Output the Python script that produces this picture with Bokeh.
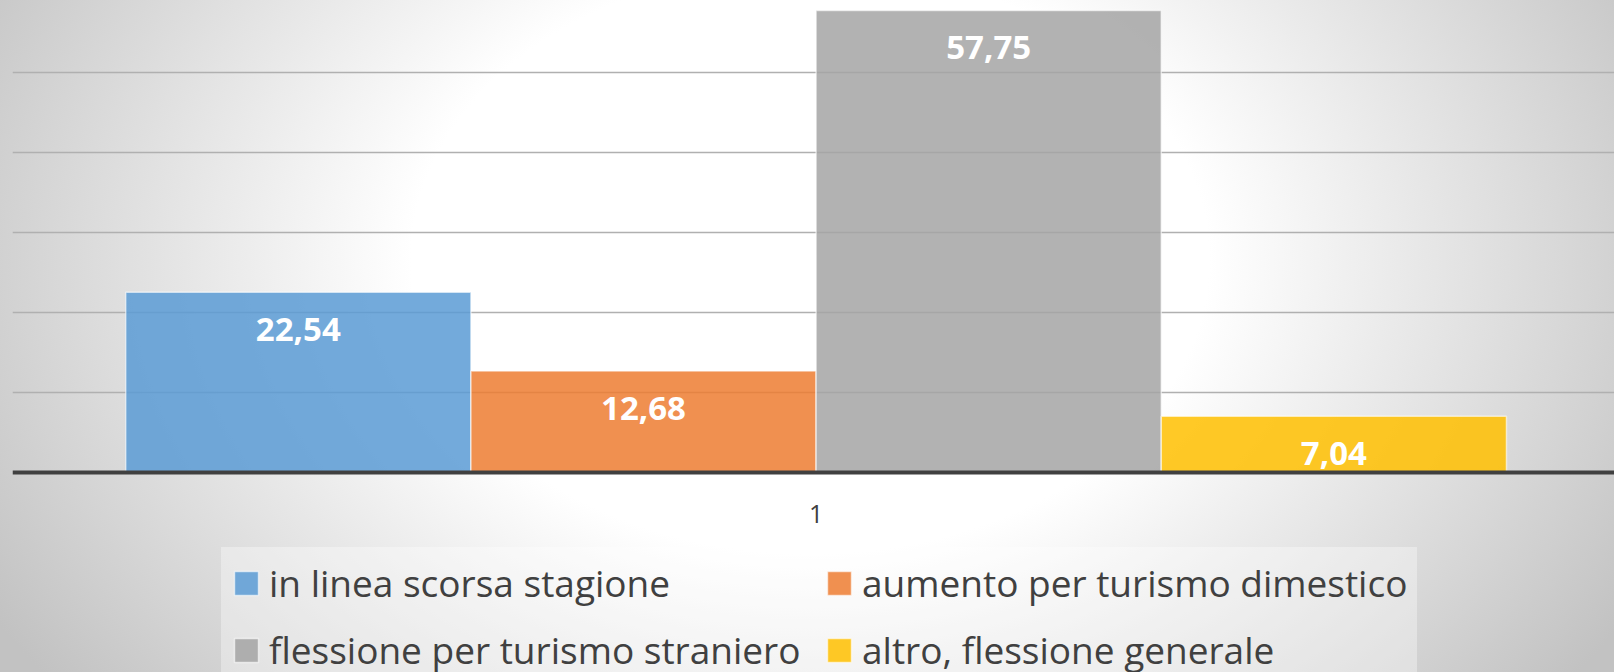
from bokeh.plotting import figure
from bokeh.models import (ColumnDataSource, Range1d, FixedTicker, Legend, LegendItem,
                          InlineStyleSheet, Grid)
from bokeh.core.properties import value
from bokeh.embed import file_html
from bokeh.resources import INLINE

# ---- data ----
category = "1"
series = ["in linea scorsa stagione", "aumento per turismo dimestico",
          "flessione per turismo straniero", "altro, flessione generale"]
values = [22.54, 12.68, 57.75, 7.04]
value_labels = ["22,54", "12,68", "57,75", "7,04"]
colors = ["#5B9BD5", "#ED7D31", "#A5A5A5", "#FFC000"]
grid_ticks = [10, 20, 30, 40, 50]

n = len(series)
xs = [i - (n - 1) / 2 for i in range(n)]
src = ColumnDataSource(dict(x=xs, v=values, lab=value_labels, color=colors, name=series))

W, H = 1614, 672
p = figure(width=W, height=H, output_backend="svg", toolbar_location=None,
           x_range=Range1d(-2.328, 2.313), y_range=Range1d(-25, 59),
           min_border_left=12, min_border_right=0, min_border_top=0, min_border_bottom=0,
           y_axis_location=None)
p.background_fill_alpha = 0
p.border_fill_alpha = 0
p.outline_line_color = None
p.stylesheets = [InlineStyleSheet(css=":host { background: radial-gradient(ellipse 950px 700px at 810px 260px, #ffffff 42%, #c2c2c2 100%); }")]

for g in p.grid:
    g.visible = False
p.add_layout(Grid(dimension=1, ticker=FixedTicker(ticks=grid_ticks),
                  grid_line_color="#b0b0b0", grid_line_width=1.5))

bars = p.vbar(x="x", top="v", width=1, source=src, fill_color="color", fill_alpha=0.85,
              line_color="white", line_alpha=0.6, line_width=1.5)

p.text(x="x", y="v", text="lab", source=src, text_color="white",
       text_font=value("Open Sans"), text_font_style="bold", text_font_size="33px",
       text_align="center", text_baseline="middle", y_offset=37)

ax = p.xaxis[0]
ax.fixed_location = 0
ax.ticker = FixedTicker(ticks=[0])
ax.major_label_overrides = {0: category}
ax.axis_line_color = "#404040"
ax.axis_line_width = 4
ax.major_tick_line_color = None
ax.minor_tick_line_color = None
ax.major_label_text_font = "Open Sans"
ax.major_label_text_font_size = "25px"
ax.major_label_text_color = "#404040"
ax.major_label_standoff = 26

legend = Legend(
    items=[LegendItem(label=s, renderers=[bars], index=i) for i, s in enumerate(series)],
    location=(209, -13), orientation="horizontal", ncols=2,
    label_text_font="Open Sans", label_text_font_size="37px", label_text_color="#404040",
    glyph_width=30, glyph_height=30, label_standoff=8, spacing=16, padding=10,
    background_fill_color="white", background_fill_alpha=0.35,
    border_line_alpha=0, label_height=50, label_width=539)
p.add_layout(legend)

open("out.html", "w").write(file_html(p, INLINE))
